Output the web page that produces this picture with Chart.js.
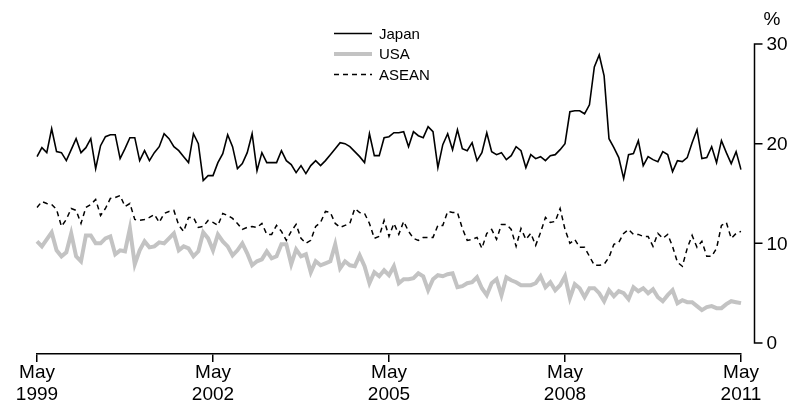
<!DOCTYPE html>
<html>
<head>
<meta charset="utf-8">
<script src="https://cdn.jsdelivr.net/npm/chart.js@4/dist/chart.umd.min.js"></script>
<style>
  html, body { margin: 0; padding: 0; background: #fff; }
  #wrap { width: 796px; height: 409px; position: relative; }
</style>
</head>
<body>
<div id="wrap"><canvas id="c" width="796" height="409"></canvas></div>
<script>
// ---- DATA ----
const monthNames = ['May','Jun','Jul','Aug','Sep','Oct','Nov','Dec','Jan','Feb','Mar','Apr'];
const categories = [];
for (let i = 0; i <= 144; i++) {
  const m = monthNames[i % 12];
  const yr = 1999 + Math.floor((i + 4) / 12);
  categories.push(m + ' ' + yr);
}

const japan = [
  18.7,19.6,19.1,21.5,19.2,19.1,18.3,19.4,20.5,19.1,19.6,20.5,17.5,19.8,20.7,20.9,20.9,18.5,19.5,20.6,20.6,18.3,19.3,18.3,
  19.1,19.7,21.0,20.5,19.7,19.3,18.7,18.1,21.0,20.0,16.3,16.8,16.8,18.1,19.0,20.9,19.7,17.5,18.0,19.1,21.0,17.3,19.1,18.1,
  18.1,18.1,19.3,18.3,17.9,17.1,17.8,17.0,17.8,18.3,17.8,18.3,18.9,19.5,20.1,20.0,19.7,19.2,18.7,18.1,21.0,18.8,18.8,20.6,
  20.7,21.1,21.1,21.2,19.7,21.2,20.8,20.6,21.7,21.2,17.6,19.9,21.0,19.4,21.4,19.5,19.3,20.1,18.3,19.1,21.1,19.2,18.9,19.1,
  18.4,18.8,19.7,19.3,17.6,18.9,18.5,18.7,18.3,18.8,18.9,19.4,20.0,23.2,23.3,23.3,23.0,23.9,27.7,28.9,26.8,20.5,19.6,18.6,
  16.5,18.9,19.0,20.3,17.8,18.7,18.4,18.2,19.2,18.9,17.2,18.3,18.2,18.6,20.1,21.4,18.5,18.6,19.7,18.1,20.3,19.1,18.0,19.2,
  17.4
];
const usa = [
  10.2,9.7,10.4,11.1,9.3,8.7,9.1,11.0,8.7,8.2,10.8,10.8,10.0,10.0,10.5,10.7,8.9,9.3,9.2,11.5,7.9,9.3,10.2,9.6,
  9.7,10.1,10.0,10.5,11.0,9.3,9.7,9.5,8.7,9.2,11.1,10.5,9.3,10.9,10.2,9.7,8.8,9.3,10.0,9.0,7.8,8.2,8.4,9.2,
  8.5,8.7,9.9,9.9,7.9,9.4,8.7,8.9,7.1,8.2,7.8,8.0,8.2,9.9,7.5,8.2,7.8,7.7,8.8,7.7,6.0,7.1,6.7,7.3,
  6.8,7.7,6.0,6.4,6.4,6.5,7.0,6.7,5.3,6.4,6.8,6.7,6.9,7.0,5.6,5.7,6.0,6.1,6.6,5.5,4.8,6.0,6.4,4.8,
  6.6,6.3,6.1,5.8,5.8,5.8,6.0,6.7,5.6,6.1,5.3,5.8,6.7,4.5,5.9,5.5,4.6,5.5,5.5,5.0,4.2,5.3,4.7,5.2,
  5.0,4.4,5.6,5.2,5.5,5.0,5.4,4.6,4.2,4.8,5.3,4.0,4.3,4.1,4.1,3.7,3.3,3.6,3.7,3.5,3.5,3.9,4.2,4.1,
  4.0
];
const asean = [
  13.6,14.2,14.0,13.9,13.4,11.7,12.4,13.5,13.3,12.0,13.6,13.9,14.4,12.8,13.5,14.5,14.6,14.8,13.7,14.0,12.4,12.3,12.4,12.6,
  12.9,12.1,13.0,13.2,13.3,11.8,11.2,12.6,12.6,11.6,11.7,12.3,12.1,11.8,13.0,12.8,12.5,12.0,11.4,11.6,11.7,11.6,12.0,10.9,
  10.9,11.8,11.2,10.3,11.2,11.9,10.5,10.0,10.3,11.7,12.1,13.2,13.1,12.0,11.6,11.8,12.0,13.5,13.1,13.0,12.0,10.5,10.7,12.3,
  10.7,12.0,10.9,12.2,11.2,10.5,10.3,10.6,10.6,10.6,11.8,11.8,13.2,13.1,13.1,11.5,10.3,10.4,10.6,9.5,11.0,11.4,10.4,11.9,
  11.9,11.4,9.7,11.5,10.4,11.0,9.8,11.1,12.6,12.1,12.2,13.5,11.4,10.0,10.4,9.6,9.6,8.7,7.8,7.8,7.9,8.6,9.9,10.1,
  11.0,11.4,10.9,10.9,10.7,10.7,9.7,11.0,10.5,10.9,9.7,8.1,7.7,9.5,10.8,9.6,10.2,8.7,8.7,9.5,11.8,12.1,10.5,11.0,
  11.2
];
const yTicks = [0, 10, 20, 30];
const xTickLabels = ['May 1999', 'May 2002', 'May 2005', 'May 2008', 'May 2011'];
const seriesNames = ['Japan', 'USA', 'ASEAN'];

// ---- CHART ----
const FONT = '"Liberation Sans", Arial, "DejaVu Sans", sans-serif';

const customAxesAndLegend = {
  id: 'customAxesAndLegend',
  afterDraw(chart) {
    const { ctx, chartArea, scales } = chart;
    const y = scales.y;
    const ax = Math.round(chartArea.right + 13) + 0.5;
    ctx.save();
    // right value axis
    ctx.strokeStyle = '#000';
    ctx.lineWidth = 1.5;
    ctx.beginPath();
    ctx.moveTo(ax, y.getPixelForValue(yTicks[yTicks.length - 1]));
    ctx.lineTo(ax, y.getPixelForValue(yTicks[0]));
    yTicks.forEach(v => {
      const py = y.getPixelForValue(v);
      ctx.moveTo(ax - 0.75, py);
      ctx.lineTo(ax + 8, py);
    });
    ctx.stroke();
    ctx.fillStyle = '#000';
    ctx.font = '19px ' + FONT;
    ctx.textAlign = 'left';
    ctx.textBaseline = 'middle';
    yTicks.forEach(v => ctx.fillText(String(v), ax + 12, y.getPixelForValue(v) + 1));
    ctx.fillText('%', ax + 9, 20);

    // legend
    const rows = [33.5, 54, 74.5];
    ctx.font = '15px ' + FONT;
    chart.data.datasets.forEach((ds, i) => {
      const ly = rows[i];
      ctx.beginPath();
      ctx.strokeStyle = ds.borderColor;
      ctx.lineWidth = ds.borderWidth;
      ctx.setLineDash(ds.borderDash || []);
      ctx.moveTo(334, ly);
      ctx.lineTo(372, ly);
      ctx.stroke();
      ctx.setLineDash([]);
      ctx.fillStyle = '#000';
      ctx.fillText(ds.label, 379, ly + 1);
    });
    ctx.restore();
  }
};

new Chart(document.getElementById('c'), {
  type: 'line',
  data: {
    labels: categories,
    datasets: [
      { label: seriesNames[0], data: japan, borderColor: '#000000', borderWidth: 1.6, pointRadius: 0, tension: 0, fill: false },
      { label: seriesNames[1], data: usa, borderColor: '#c3c3c3', borderWidth: 4, pointRadius: 0, tension: 0, fill: false },
      { label: seriesNames[2], data: asean, borderColor: '#000000', borderWidth: 1.5, borderDash: [5, 4], pointRadius: 0, tension: 0, fill: false }
    ]
  },
  options: {
    responsive: false,
    animation: false,
    devicePixelRatio: 1,
    layout: { padding: { left: 37, right: 55, top: 44, bottom: 0 } },
    plugins: { legend: { display: false }, tooltip: { enabled: false } },
    scales: {
      x: {
        type: 'category',
        offset: false,
        afterBuildTicks: (s) => {
          s.ticks = s.ticks.filter(t => xTickLabels.includes(categories[t.value]));
        },
        afterFit: (s) => { s.height = 55; },
        grid: { display: true, drawOnChartArea: false, drawTicks: true, tickLength: 8, color: '#000', lineWidth: 1.5 },
        border: { display: true, color: '#000', width: 1.5 },
        ticks: {
          autoSkip: false,
          maxRotation: 0,
          minRotation: 0,
          padding: 0,
          color: '#000',
          font: { family: FONT, size: 19, lineHeight: 1.15 },
          callback: function (value) {
            const lab = categories[value];
            return lab.split(' ');
          }
        }
      },
      y: {
        display: false,
        min: -1.1,
        max: 30
      }
    }
  },
  plugins: [customAxesAndLegend]
});
</script>
</body>
</html>
